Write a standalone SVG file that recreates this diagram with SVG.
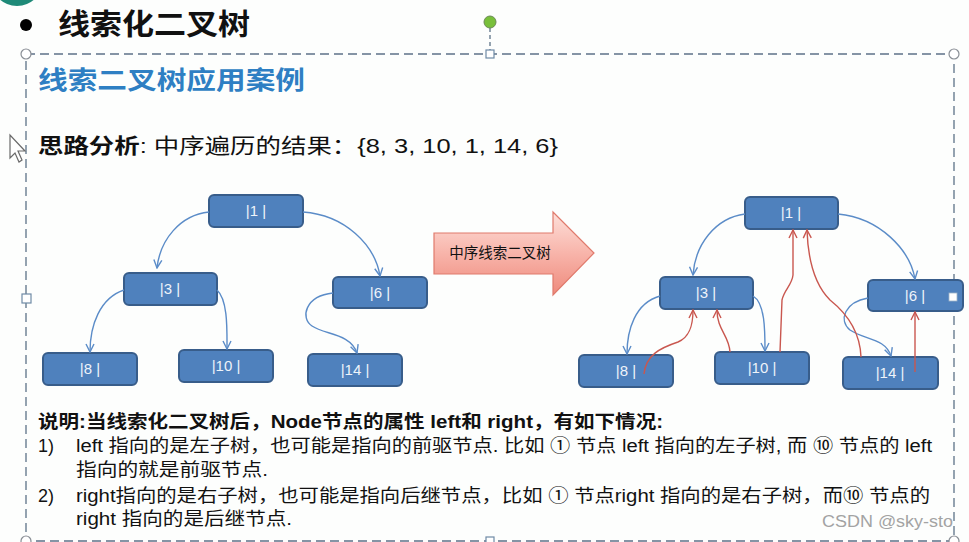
<svg xmlns="http://www.w3.org/2000/svg" width="969" height="542" viewBox="0 0 969 542">
<defs>
<style>
.cjk{font-family:"Liberation Sans","Noto Sans CJK SC",sans-serif;fill:#111}
.node rect{fill:#4f81bd;stroke:#385d8a;stroke-width:2}
.node text{font-family:"Liberation Sans","Noto Sans CJK SC",sans-serif;font-size:15px;fill:#eef3fa;text-anchor:middle}
.blue{fill:none;stroke:#5b8cc8;stroke-width:1.4;marker-end:url(#ab)}
.red{fill:none;stroke:#c9574f;stroke-width:1.4;marker-end:url(#ar)}
.frame{fill:none;stroke:#5d7288;stroke-width:1.3;stroke-dasharray:9 5}
.hc{fill:#fff;stroke:#8a8f96;stroke-width:1.2}
.hs{fill:#fff;stroke:#6f8aa6;stroke-width:1.2}
</style>
<marker id="ab" viewBox="0 0 10 10" refX="9" refY="5" markerWidth="10" markerHeight="10" markerUnits="userSpaceOnUse" orient="auto">
<path d="M1,1 L9,5 L1,9" fill="none" stroke="#5b8cc8" stroke-width="1.4"/>
</marker>
<marker id="ar" viewBox="0 0 10 10" refX="9" refY="5" markerWidth="10" markerHeight="10" markerUnits="userSpaceOnUse" orient="auto">
<path d="M1,1 L9,5 L1,9" fill="none" stroke="#c9574f" stroke-width="1.4"/>
</marker>
<linearGradient id="pg" x1="0" y1="0" x2="0" y2="1">
<stop offset="0" stop-color="#fde0da"/>
<stop offset="0.5" stop-color="#f8b4aa"/>
<stop offset="1" stop-color="#ee8a7c"/>
</linearGradient>
</defs>
<rect width="969" height="542" fill="#fdfefd"/>
<circle cx="17" cy="-20" r="26" fill="#1e8a78"/>

<g id="header">
<circle cx="26" cy="25" r="6" fill="#000"/>
<text x="58" y="35" class="cjk" font-size="29" font-weight="700" textLength="192" lengthAdjust="spacingAndGlyphs">线索化二叉树</text>
<line x1="490" y1="28" x2="490" y2="50" stroke="#5d7288" stroke-width="1.3" stroke-dasharray="4 3"/>
<circle cx="490" cy="22" r="6" fill="#78bf3a" stroke="#6b8a55" stroke-width="1"/>
</g>

<g id="frame">
<rect x="26" y="54" width="928" height="487" class="frame"/>
<circle cx="26" cy="54" r="5" class="hc"/>
<circle cx="954" cy="54" r="5" class="hc"/>
<rect x="486" y="50" width="8" height="8" class="hs"/>
<rect x="22" y="294" width="9" height="9" class="hs"/>
<circle cx="26" cy="541" r="5" class="hc"/>
<circle cx="954" cy="541" r="5" class="hc"/>
<rect x="486" y="537" width="8" height="8" class="hs"/>
</g>

<path d="M10,135 L10,158 L15,153 L19,162 L22,160 L18,151 L25,151 Z" fill="#fff" stroke="#6a6a6a" stroke-width="1.2"/>

<g id="texts">
<text x="38" y="89" font-family="Liberation Sans,'Noto Sans CJK SC',sans-serif" font-size="25" font-weight="700" fill="#2e7fc3" textLength="267" lengthAdjust="spacingAndGlyphs">线索二叉树应用案例</text>
<text x="38" y="153" class="cjk" font-size="21" textLength="520" lengthAdjust="spacingAndGlyphs"><tspan font-weight="700">思路分析</tspan>: 中序遍历的结果：{8, 3, 10, 1, 14, 6}</text>
<text x="38" y="428" class="cjk" font-size="18" font-weight="700" textLength="625" lengthAdjust="spacingAndGlyphs">说明:当线索化二叉树后，Node节点的属性 left和 right，有如下情况:</text>
<text x="38" y="452" class="cjk" font-size="18">1)</text>
<text x="76" y="452" class="cjk" font-size="18" textLength="856" lengthAdjust="spacingAndGlyphs">left 指向的是左子树，也可能是指向的前驱节点. 比如 ① 节点 left 指向的左子树, 而 ⑩ 节点的 left</text>
<text x="76" y="476" class="cjk" font-size="18" textLength="192" lengthAdjust="spacingAndGlyphs">指向的就是前驱节点.</text>
<text x="38" y="502" class="cjk" font-size="18">2)</text>
<text x="76" y="502" class="cjk" font-size="18" textLength="854" lengthAdjust="spacingAndGlyphs">right指向的是右子树，也可能是指向后继节点，比如 ① 节点right 指向的是右子树，而⑩ 节点的</text>
<text x="76" y="525" class="cjk" font-size="18" textLength="216" lengthAdjust="spacingAndGlyphs">right 指向的是后继节点.</text>
<text x="822" y="527" font-family="Liberation Sans,sans-serif" font-size="16" fill="#a3a3a3" textLength="131" lengthAdjust="spacingAndGlyphs">CSDN @sky-sto</text>
</g>

<g id="bigarrow">
<path d="M434,233 L553,233 L553,212 L594,253 L553,295 L553,274 L434,274 Z" fill="url(#pg)" stroke="#e07a6c" stroke-width="1.2"/>
<text x="500" y="258" class="cjk" font-size="14.5" text-anchor="middle">中序线索二叉树</text>
</g>

<g id="L1" class="node"><rect x="209" y="195" width="94" height="32" rx="5"/><text x="256" y="216">|1 |</text></g>
<g id="L3" class="node"><rect x="124" y="273" width="93" height="32" rx="5"/><text x="170" y="294">|3 |</text></g>
<g id="L6" class="node"><rect x="333" y="277" width="94" height="31" rx="5"/><text x="380" y="298">|6 |</text></g>
<g id="L8" class="node"><rect x="43" y="353" width="94" height="32" rx="5"/><text x="90" y="374">|8 |</text></g>
<g id="L10" class="node"><rect x="179" y="350" width="94" height="32" rx="5"/><text x="226" y="371">|10 |</text></g>
<g id="L14" class="node"><rect x="308" y="354" width="94" height="32" rx="5"/><text x="355" y="375">|14 |</text></g>

<g id="R1" class="node"><rect x="745" y="197" width="93" height="32" rx="5"/><text x="791" y="218">|1 |</text></g>
<g id="R3" class="node"><rect x="660" y="277" width="93" height="32" rx="5"/><text x="706" y="298">|3 |</text></g>
<g id="R6" class="node"><rect x="868" y="280" width="95" height="31" rx="5"/><text x="915" y="301">|6 |</text></g>
<g id="R8" class="node"><rect x="579" y="355" width="94" height="32" rx="5"/><text x="626" y="376">|8 |</text></g>
<g id="R10" class="node"><rect x="715" y="352" width="94" height="32" rx="5"/><text x="762" y="373">|10 |</text></g>
<g id="R14" class="node"><rect x="843" y="357" width="95" height="32" rx="5"/><text x="890" y="378">|14 |</text></g>

<rect x="949" y="293" width="8" height="8" fill="#fff" stroke="#9fb3c8" stroke-width="0.8"/>

<g id="connectors">
<path class="blue" d="M209,212 C180,215 160,240 157,268"/>
<path class="blue" d="M303,212 C345,215 375,245 380,276"/>
<path class="blue" d="M124,290 C100,298 90,325 90,352"/>
<path class="blue" d="M217,290 C228,300 227,330 227,349"/>
<path class="blue" d="M333,293 C305,296 300,318 312,326 C325,335 350,333 357,353"/>

<path class="blue" d="M745,214 C715,218 695,245 693,275"/>
<path class="blue" d="M838,214 C880,218 910,250 915,279"/>
<path class="blue" d="M660,296 C635,303 627,330 627,354"/>
<path class="blue" d="M753,296 C765,303 765,330 765,351"/>
<path class="blue" d="M868,298 C845,302 838,320 850,330 C865,340 885,338 891,356"/>

<path class="red" d="M644,374 C646,355 660,348 678,342 C690,337 693,325 693,310"/>
<path class="red" d="M730,352 C729,335 717,330 717,310"/>
<path class="red" d="M780,352 L782,300 C784,290 792,285 793,275 L793,230"/>
<path class="red" d="M861,357 C860,330 845,312 830,300 C815,285 808,260 807,230"/>
<path class="red" d="M915,372 L915,312"/>
</g>
</svg>
